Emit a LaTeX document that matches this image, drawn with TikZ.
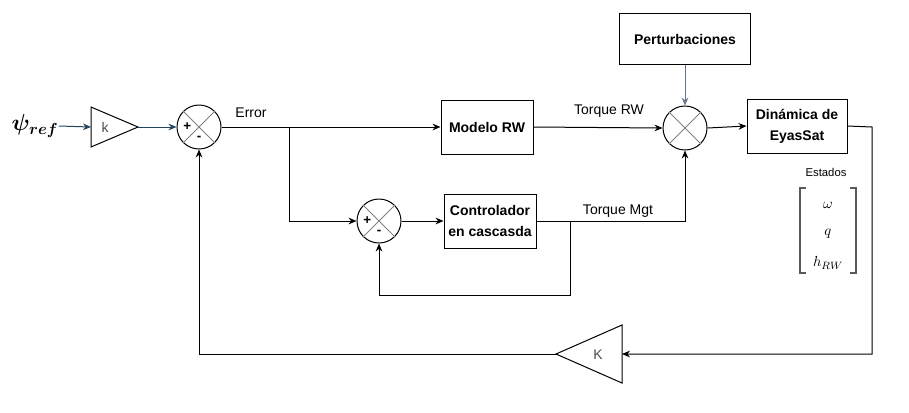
\documentclass[tikz,border=0pt]{standalone}
\usepackage{amsmath}
\usepackage{fontspec}
\setmainfont{Liberation Sans}
\usetikzlibrary{arrows.meta}
\definecolor{azul}{HTML}{23445D}
\definecolor{grisazul}{HTML}{647687}
\definecolor{gris}{HTML}{808080}

\begin{document}
\begin{tikzpicture}[x=0.75pt,y=-0.75pt,line width=0.75pt,
  font=\fontsize{10.5}{13}\selectfont,
  bloque/.style={draw,align=center,font=\fontsize{10.5}{16}\selectfont\bfseries,inner sep=0pt},
  suma/.style={circle,draw,minimum size=33pt,inner sep=0pt},
  estado/.style={font=\fontsize{11}{13}\selectfont,inner sep=1pt},
  flecha/.style={-{Stealth[length=6pt,width=5pt]}}]
\useasboundingbox (0,0) rectangle (909,412);

\node [inner sep=0pt] (psi) at (35,126) {\fontsize{18.5}{22}\selectfont $\boldsymbol{\psi_{ref}}$};
\node [suma] (s1) at (199,127) {};
\node [bloque,minimum width=69pt,minimum height=40.5pt] (rw) at (487,127) {Modelo RW};
\node [suma] (s2) at (379,221) {};
\node [bloque,minimum width=69pt,minimum height=40.5pt] (ctrl) at (490,221) {Controlador\\en cascasda};
\node [suma] (s3) at (685,128) {};
\node [bloque,minimum width=98pt,minimum height=38pt] (pert) at (685,39) {Perturbaciones};
\node [bloque,minimum width=75pt,minimum height=40.5pt] (dyn) at (797,126) {Dinámica de\\EyasSat};

% ganancias
\draw (91,107) -- (138,127) -- (91,147) -- cycle;
\coordinate (k1in) at (91,127);
\coordinate (k1out) at (138,127);
\node [text=black!70] (k1) at (105,127) {k};
\draw (622,325) -- (556,354) -- (622,383) -- cycle;
\coordinate (Kin) at (622,354);
\coordinate (Kout) at (556,354);
\node [text=black!70] (K) at (598,355) {K};

% cruces de los sumadores
\foreach \s in {s1,s2,s3} {
  \draw [gris] (\s.45) -- (\s.225);
  \draw [gris] (\s.135) -- (\s.315);
}
\node [font=\bfseries] at ([xshift=8pt]s1.west) {+};
\node [font=\bfseries] at ([yshift=8pt]s1.south) {-};
\node [font=\bfseries] at ([xshift=8pt]s2.west) {+};
\node [font=\bfseries] at ([yshift=8pt]s2.south) {-};

\node at (251,113) {Error};
\node at (609,111) {Torque RW};
\node at (618,211) {Torque Mgt};
\node [font=\fontsize{8.5}{10}\selectfont] at (826,172) {Estados};

% vector de estados
\node [estado] (w) at (828,205) {$\omega$};
\node [estado] (q) at (828,234) {$q$};
\node [estado] (h) at (828,263) {$h_{RW}$};
\draw [black!65,line width=1.1pt] (806,188) -- (800,188) -- (800,273) -- (806,273);
\draw [black!65,line width=1.1pt] (850,188) -- (856,188) -- (856,273) -- (850,273);

\coordinate (ramal) at (289,127);
\coordinate (rama2) at (570,221);
\coordinate (salida) at (872,127);

\draw [flecha,azul] (psi.east) -- (k1in);
\draw [flecha,azul] (k1out) -- (s1.west);
\draw (s1.east) -- (ramal);
\draw [flecha] (ramal) -- (rw.west);
\draw [flecha] (ramal) |- (s2.west);
\draw [flecha] (s2.east) -- (ctrl.west);
\draw [flecha] (ctrl.east) -| (s3.south);
\draw [flecha] (rama2) -- ++(0,74) -| (s2.south);
\draw [flecha] (rw.east) -- (s3.west);
\draw [flecha,grisazul] (pert.south) -- (s3.north);
\draw [flecha] (s3.east) -- (dyn.west);
\draw [flecha] (dyn.east) -- (salida) |- (Kin);
\draw [flecha] (Kout) -| (s1.south);
\end{tikzpicture}
\end{document}
